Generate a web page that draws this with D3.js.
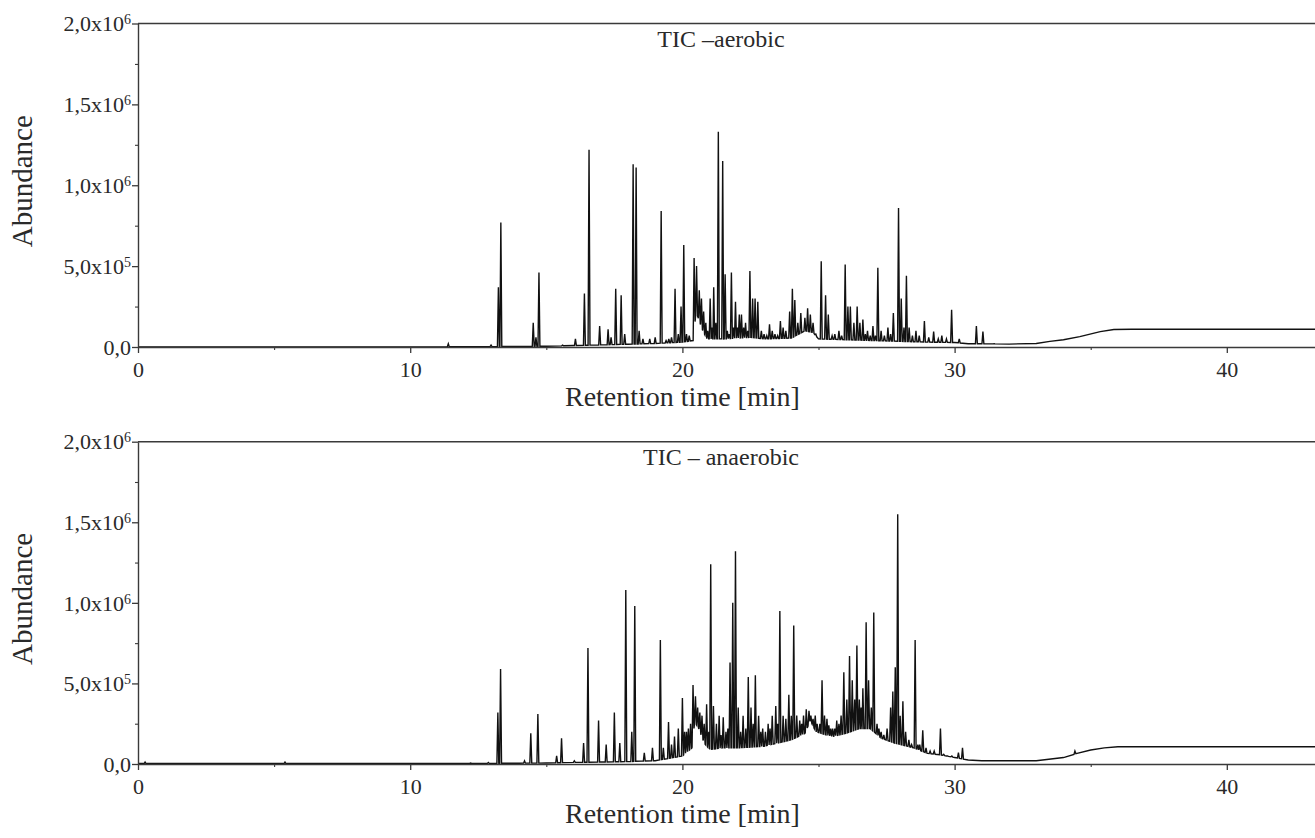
<!DOCTYPE html>
<html>
<head>
<meta charset="utf-8">
<script src="https://cdn.jsdelivr.net/npm/d3@7"></script>
<style>
  html, body { margin: 0; padding: 0; background: #fff; }
  svg { display: block; }
  text { font-family: "Liberation Serif", "Times New Roman", serif; fill: #2a2a2a; }
</style>
</head>
<body>
<svg id="chart" width="1315" height="838"></svg>
<script>
// ---------- DATA (abundance in units of 10^6, time in min) ----------
const timeTicks = [0, 10, 20, 30, 40];
const timeMinorTicks = [5, 15, 25, 35];
const abundanceTicks = [0, 0.5, 1.0, 1.5, 2.0];
const abundanceMinorTicks = [0.25, 0.75, 1.25, 1.75];
const abundanceTickMantissa = ["0,0", "5,0x10", "1,0x10", "1,5x10", "2,0x10"];
const abundanceTickExponent = ["", "5", "6", "6", "6"];
const panelTitles = ["TIC \u2013aerobic", "TIC \u2013 anaerobic"];
const xAxisTitle = "Retention time [min]";
const yAxisTitle = "Abundance";

// baseline of the aerobic trace [time, abundance]
const aerobicBaseline = [
  [0, 0.0], [12, 0.002], [14, 0.003], [15, 0.005], [16, 0.009], [17, 0.013],
  [18, 0.017], [19, 0.022], [20, 0.03], [20.4, 0.04], [20.5, 0.22], [20.6, 0.17],
  [20.75, 0.1], [20.9, 0.05], [21.5, 0.05], [22, 0.055], [22.5, 0.06], [23, 0.05],
  [24, 0.055], [24.5, 0.1], [24.8, 0.09], [25, 0.05], [26, 0.045], [27, 0.04],
  [28, 0.035], [29, 0.03], [30, 0.028], [30.5, 0.02], [31, 0.02], [32, 0.018],
  [33, 0.022], [33.5, 0.035], [34, 0.045], [34.6, 0.064], [35.35, 0.095],
  [35.85, 0.108], [36.5, 0.11], [43.3, 0.11]
];
// peaks of the aerobic trace [time, apex abundance]
const aerobicPeaks = [
  [11.4, 0.02], [12.97, 0.012], [13.24, 0.37], [13.33, 0.77], [14.52, 0.15],
  [14.62, 0.06], [14.73, 0.46], [15.6, 0.012], [16.07, 0.05], [16.4, 0.33],
  [16.57, 1.22], [16.96, 0.13], [17.27, 0.11], [17.38, 0.06], [17.55, 0.36],
  [17.75, 0.32], [17.88, 0.08], [18.19, 1.13], [18.3, 1.11], [18.41, 0.1],
  [18.55, 0.05], [18.8, 0.05], [19.0, 0.06], [19.22, 0.84], [19.4, 0.04],
  [19.5, 0.05], [19.6, 0.06], [19.73, 0.36], [19.85, 0.08], [19.95, 0.25],
  [20.05, 0.63], [20.15, 0.08], [20.25, 0.07], [20.43, 0.55], [20.52, 0.5],
  [20.62, 0.35], [20.7, 0.3], [20.78, 0.22], [20.86, 0.15], [20.93, 0.1],
  [21.02, 0.3], [21.09, 0.12], [21.15, 0.37], [21.23, 0.15], [21.32, 1.33],
  [21.48, 1.15], [21.57, 0.45], [21.65, 0.1], [21.72, 0.08], [21.8, 0.46],
  [21.88, 0.12], [21.95, 0.28], [22.02, 0.12], [22.09, 0.2], [22.17, 0.2],
  [22.25, 0.12], [22.32, 0.15], [22.4, 0.1], [22.48, 0.47], [22.58, 0.3],
  [22.67, 0.3], [22.77, 0.28], [22.9, 0.1], [23.0, 0.08], [23.1, 0.07],
  [23.2, 0.14], [23.3, 0.1], [23.4, 0.08], [23.5, 0.07], [23.6, 0.16],
  [23.7, 0.12], [23.8, 0.1], [23.94, 0.22], [24.04, 0.36], [24.13, 0.29],
  [24.24, 0.15], [24.35, 0.21], [24.5, 0.18], [24.6, 0.24], [24.7, 0.2],
  [24.8, 0.15], [24.9, 0.08], [25.1, 0.53], [25.26, 0.32], [25.36, 0.2],
  [25.5, 0.07], [25.6, 0.08], [25.75, 0.1], [25.85, 0.07], [25.98, 0.51],
  [26.08, 0.25], [26.17, 0.25], [26.3, 0.15], [26.42, 0.25], [26.52, 0.15],
  [26.63, 0.17], [26.72, 0.08], [26.8, 0.1], [26.9, 0.07], [27.0, 0.13],
  [27.09, 0.07], [27.18, 0.49], [27.3, 0.1], [27.42, 0.07], [27.55, 0.12],
  [27.65, 0.08], [27.75, 0.21], [27.94, 0.86], [28.04, 0.3], [28.14, 0.12],
  [28.23, 0.44], [28.33, 0.12], [28.45, 0.07], [28.58, 0.1], [28.7, 0.07],
  [28.89, 0.16], [29.05, 0.06], [29.23, 0.095], [29.4, 0.05], [29.53, 0.07],
  [29.7, 0.05], [29.89, 0.23], [30.17, 0.05], [30.8, 0.13], [31.04, 0.095],
  [31.45, 0.02]
];

// baseline of the anaerobic trace
const anaerobicBaseline = [
  [0, 0.003], [12, 0.003], [13, 0.004], [14, 0.005], [15, 0.006], [16, 0.01],
  [17, 0.012], [18, 0.015], [18.5, 0.018], [19, 0.02], [19.5, 0.035], [20, 0.05],
  [20.35, 0.1], [20.45, 0.26], [20.6, 0.22], [20.8, 0.13], [21, 0.09], [21.5, 0.1],
  [22, 0.1], [22.5, 0.105], [23, 0.11], [23.5, 0.13], [24, 0.15], [24.5, 0.19],
  [24.7, 0.27], [24.9, 0.2], [25.5, 0.17], [26, 0.19], [26.5, 0.22], [26.9, 0.22],
  [27.3, 0.16], [27.8, 0.13], [28.5, 0.1], [29, 0.066], [29.5, 0.056], [30, 0.04],
  [30.5, 0.025], [31, 0.02], [33, 0.02], [34, 0.04], [34.5, 0.066], [35, 0.087],
  [35.5, 0.1], [36, 0.107], [43.3, 0.107]
];
// peaks of the anaerobic trace
const anaerobicPeaks = [
  [0.26, 0.012], [5.4, 0.012], [12.22, 0.006], [12.87, 0.01], [13.22, 0.32],
  [13.32, 0.59], [14.2, 0.02], [14.43, 0.19], [14.69, 0.31], [15.38, 0.05],
  [15.56, 0.16], [16.03, 0.02], [16.37, 0.13], [16.53, 0.72], [16.92, 0.27],
  [17.2, 0.12], [17.5, 0.32], [17.7, 0.13], [17.92, 1.08], [18.14, 0.2],
  [18.25, 0.98], [18.6, 0.07], [18.9, 0.1], [19.19, 0.77], [19.3, 0.1],
  [19.49, 0.26], [19.6, 0.12], [19.71, 0.17], [19.85, 0.22], [20.0, 0.41],
  [20.08, 0.2], [20.15, 0.2], [20.22, 0.22], [20.3, 0.25], [20.39, 0.49],
  [20.48, 0.42], [20.56, 0.35], [20.64, 0.32], [20.72, 0.3], [20.8, 0.25],
  [20.89, 0.37], [20.97, 0.2], [21.04, 1.24], [21.14, 0.36], [21.25, 0.25],
  [21.35, 0.3], [21.42, 0.18], [21.5, 0.29], [21.6, 0.2], [21.67, 0.22],
  [21.75, 0.63], [21.85, 1.0], [21.95, 1.32], [22.05, 0.35], [22.14, 0.2],
  [22.23, 0.3], [22.33, 0.22], [22.42, 0.54], [22.52, 0.35], [22.6, 0.25],
  [22.68, 0.55], [22.8, 0.3], [22.88, 0.2], [22.95, 0.22], [23.05, 0.2],
  [23.15, 0.25], [23.22, 0.22], [23.3, 0.3], [23.43, 0.36], [23.5, 0.25],
  [23.58, 0.95], [23.7, 0.3], [23.8, 0.28], [23.91, 0.43], [24.0, 0.3],
  [24.09, 0.86], [24.2, 0.3], [24.31, 0.27], [24.38, 0.25], [24.45, 0.3],
  [24.55, 0.34], [24.65, 0.33], [24.72, 0.3], [24.8, 0.28], [24.88, 0.3],
  [24.95, 0.25], [25.05, 0.25], [25.13, 0.52], [25.22, 0.3], [25.31, 0.28],
  [25.38, 0.24], [25.45, 0.22], [25.52, 0.22], [25.6, 0.22], [25.67, 0.27],
  [25.75, 0.25], [25.83, 0.3], [25.93, 0.57], [26.04, 0.4], [26.14, 0.67],
  [26.24, 0.52], [26.33, 0.4], [26.41, 0.735], [26.5, 0.4], [26.565, 0.35],
  [26.63, 0.47], [26.75, 0.88], [26.84, 0.52], [26.94, 0.35], [27.03, 0.94],
  [27.15, 0.25], [27.22, 0.22], [27.3, 0.2], [27.4, 0.18], [27.52, 0.22],
  [27.65, 0.35], [27.73, 0.45], [27.82, 0.6], [27.91, 1.55], [28.0, 0.3],
  [28.1, 0.39], [28.2, 0.2], [28.32, 0.15], [28.42, 0.12], [28.55, 0.77],
  [28.65, 0.12], [28.72, 0.12], [28.83, 0.21], [28.95, 0.1], [29.1, 0.08],
  [29.25, 0.08], [29.48, 0.22], [29.6, 0.06], [29.74, 0.05], [29.9, 0.05],
  [30.14, 0.07], [30.29, 0.1], [34.42, 0.08]
];

// ---------- DRAWING ----------
const svg = d3.select("#chart");
const font = '"Liberation Serif", "Times New Roman", serif';
const left = 138, right = 1315;
const x = d3.scaleLinear().domain([0, 43.24]).range([left, right]);
const axisColor = "#3a3a3a";

const panels = [
  { top: 23.5, bottom: 347, baseline: aerobicBaseline, peaks: aerobicPeaks, title: panelTitles[0] },
  { top: 441.7, bottom: 764, baseline: anaerobicBaseline, peaks: anaerobicPeaks, title: panelTitles[1] }
];

function tracePoints(baseline, peaks) {
  const baseAt = d3.scaleLinear()
    .domain(baseline.map(d => d[0]))
    .range(baseline.map(d => d[1]))
    .clamp(true);
  const hw = 0.035;
  const pts = baseline.filter(b => !peaks.some(p => Math.abs(b[0] - p[0]) < hw * 1.01));
  peaks.forEach(p => {
    pts.push([p[0] - hw, baseAt(p[0] - hw)]);
    pts.push([p[0], Math.max(p[1], baseAt(p[0]))]);
    pts.push([p[0] + hw, baseAt(p[0] + hw)]);
  });
  pts.sort((a, b) => a[0] - b[0]);
  return pts;
}

panels.forEach((P, i) => {
  const y = d3.scaleLinear().domain([0, 2]).range([P.bottom, P.top]);
  const g = svg.append("g");

  // trace
  const line = d3.line().x(d => x(d[0])).y(d => y(d[1]));
  g.append("path")
    .datum(tracePoints(P.baseline, P.peaks))
    .attr("d", line)
    .attr("fill", "none")
    .attr("stroke", "#111")
    .attr("stroke-width", 1.4)
    .attr("stroke-linejoin", "miter");

  // top frame line
  g.append("line")
    .attr("x1", left).attr("x2", right)
    .attr("y1", y(2)).attr("y2", y(2))
    .attr("stroke", axisColor).attr("stroke-width", 1.4);

  // y axis major
  const yAxis = g.append("g")
    .attr("transform", `translate(${left},0)`)
    .call(d3.axisLeft(y).tickValues(abundanceTicks).tickSize(6).tickSizeOuter(0).tickFormat(() => ""));
  yAxis.select(".domain").attr("stroke", axisColor).attr("stroke-width", 1.4);
  yAxis.selectAll(".tick line").attr("stroke", axisColor).attr("stroke-width", 1.3);
  yAxis.selectAll(".tick text").remove();
  yAxis.selectAll(".tick").each(function(d, k) {
    const t = d3.select(this).append("text")
      .attr("x", -7).attr("dy", "0.33em")
      .attr("text-anchor", "end")
      .style("font-family", font)
      .style("font-size", "22px");
    t.append("tspan").text(abundanceTickMantissa[k]);
    if (abundanceTickExponent[k]) {
      t.append("tspan").attr("dy", "-0.5em").style("font-size", "14px").text(abundanceTickExponent[k]);
    }
  });
  // y axis minor
  const yMinor = g.append("g")
    .attr("transform", `translate(${left},0)`)
    .call(d3.axisLeft(y).tickValues(abundanceMinorTicks).tickSize(3).tickFormat(() => ""));
  yMinor.select(".domain").remove();
  yMinor.selectAll(".tick line").attr("stroke", axisColor).attr("stroke-width", 1.1);

  // x axis major
  const xAxis = g.append("g")
    .attr("transform", `translate(0,${P.bottom})`)
    .call(d3.axisBottom(x).tickValues(timeTicks).tickSize(6).tickSizeOuter(0).tickFormat(d => d));
  xAxis.select(".domain").attr("stroke", axisColor).attr("stroke-width", 1.4);
  xAxis.selectAll(".tick line").attr("stroke", axisColor).attr("stroke-width", 1.3);
  xAxis.selectAll(".tick text")
    .attr("y", 30).attr("dy", "0")
    .style("font-family", font).style("font-size", "22px").attr("fill", "#2a2a2a");
  const xMinor = g.append("g")
    .attr("transform", `translate(0,${P.bottom})`)
    .call(d3.axisBottom(x).tickValues(timeMinorTicks).tickSize(3).tickFormat(() => ""));
  xMinor.select(".domain").remove();
  xMinor.selectAll(".tick line").attr("stroke", axisColor).attr("stroke-width", 1.1);

  // panel title
  g.append("text")
    .attr("x", 721).attr("y", P.top + 23.5)
    .attr("text-anchor", "middle")
    .style("font-size", "24px")
    .text(P.title);

  // x axis title
  g.append("text")
    .attr("x", x(20)).attr("y", P.bottom + 59)
    .attr("text-anchor", "middle")
    .style("font-size", "28px")
    .text(xAxisTitle);

  // y axis title
  const yc = (P.top + P.bottom) / 2 - 4;
  g.append("text")
    .attr("transform", `translate(32,${yc}) rotate(-90)`)
    .attr("text-anchor", "middle")
    .style("font-size", "29px")
    .text(yAxisTitle);
});
</script>
</body>
</html>
